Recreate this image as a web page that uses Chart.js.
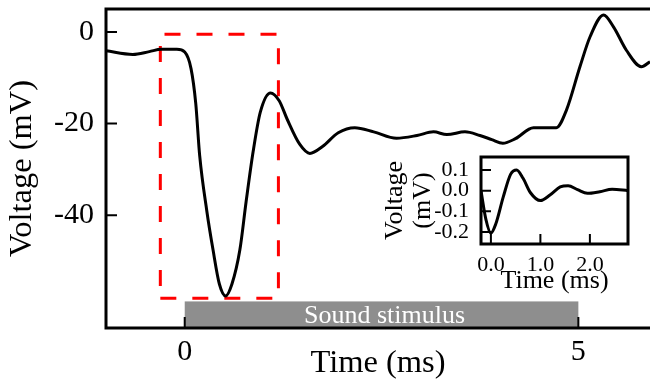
<!DOCTYPE html>
<html>
<head>
<meta charset="utf-8">
<script src="https://cdn.jsdelivr.net/npm/chart.js@4"></script>
<style>
html, body { margin: 0; padding: 0; background: #fff; }
#wrap { position: relative; width: 650px; height: 383px; }
#mainChart { position: absolute; left: 0; top: 0; }
#insetChart { position: absolute; left: 380px; top: 145px; }
</style>
</head>
<body>
<div id="wrap">
  <canvas id="mainChart" width="650" height="383" style="width:650px;height:383px"></canvas>
  <canvas id="insetChart" width="252" height="155" style="width:252px;height:155px"></canvas>
</div>
<script>
// main trace (ms / mV)
const timeMs = [-1.0, -0.66, -0.45, -0.3, -0.1, 0.0, 0.08, 0.14, 0.19, 0.28, 0.36, 0.44, 0.52, 0.6, 0.7, 0.78, 0.87, 0.96, 1.09, 1.2, 1.3, 1.46, 1.59, 1.75, 1.95, 2.16, 2.4, 2.69, 2.95, 3.16, 3.33, 3.56, 3.75, 3.9, 4.04, 4.2, 4.43, 4.72, 4.85, 5.02, 5.15, 5.32, 5.45, 5.61, 5.8, 5.91];
const voltageMv = [-4.1, -4.9, -4.3, -3.8, -3.8, -4.4, -8.0, -15.6, -27, -39, -47.6, -55, -57.6, -55, -47.6, -37, -26, -17.5, -13.3, -15, -19, -24.5, -26.5, -25, -22, -20.9, -21.8, -23.2, -22.6, -21.8, -22.4, -21.8, -22.6, -23.5, -24.3, -23.3, -20.9, -20.9, -17, -7.6, -1, 3.7, 1, -4.0, -7.6, -6.5];
const xTicks = [0, 5];
const yTicks = [0, -20, -40];

// highlighted window and stimulus bar
const boxTime = [-0.31, 1.19];
const boxVolt = [-0.5, -58.1];
const stimTime = [0, 5];
const stimTop = -58.8;
const stimLabel = 'Sound stimulus';

// inset trace (ms / mV)
const insetTime = [-0.2, -0.1, 0.0, 0.1, 0.25, 0.4, 0.52, 0.65, 0.8, 1.0, 1.2, 1.4, 1.56, 1.75, 1.95, 2.2, 2.45, 2.77];
const insetVoltage = [0.0, -0.14, -0.205, -0.16, -0.03, 0.08, 0.1, 0.06, -0.01, -0.048, -0.02, 0.018, 0.024, 0.005, -0.013, -0.005, 0.007, 0.0];
const insetXTicks = [0, 1, 2];
const insetYTicks = [0.1, 0, -0.1, -0.2];

const serif = '"Liberation Serif", "Times New Roman", serif';

// frame, inward ticks and stimulus bar
const framePlugin = {
    id: 'frame',
    afterDatasetsDraw(chart, args, opts) {
        const { ctx, chartArea: a, scales: { x, y } } = chart;
        ctx.save();
        if (opts.bar) {
            const x0 = x.getPixelForValue(opts.bar.from);
            const x1 = x.getPixelForValue(opts.bar.to);
            const yt = y.getPixelForValue(opts.bar.top);
            ctx.fillStyle = '#8e8e8e';
            ctx.fillRect(x0, yt, x1 - x0, a.bottom - yt);
            ctx.fillStyle = '#fff';
            ctx.font = '26px ' + serif;
            ctx.textAlign = 'center';
            ctx.textBaseline = 'middle';
            ctx.fillText(opts.bar.label, (x0 + x1) / 2 + 3, (yt + a.bottom) / 2 + 1);
        }
        ctx.strokeStyle = '#000';
        ctx.lineWidth = 2;
        ctx.beginPath();
        x.ticks.forEach(t => {
            const px = x.getPixelForValue(t.value);
            ctx.moveTo(px, a.bottom);
            ctx.lineTo(px, a.bottom - opts.tickLen);
        });
        y.ticks.forEach(t => {
            const py = y.getPixelForValue(t.value);
            ctx.moveTo(a.left, py);
            ctx.lineTo(a.left + opts.tickLen, py);
        });
        ctx.stroke();
        ctx.lineWidth = 3;
        ctx.beginPath();
        if (opts.box) {
            ctx.rect(a.left, a.top, a.right - a.left, a.bottom - a.top);
        } else {
            ctx.moveTo(a.right, a.top);
            ctx.lineTo(a.left, a.top);
            ctx.lineTo(a.left, a.bottom);
            ctx.lineTo(a.right, a.bottom);
        }
        ctx.stroke();
        ctx.restore();
    }
};

function axisText(size) {
    return { family: serif, size: size, lineHeight: 1.2 };
}

// fixed axis sizes, no extra label padding
function fixHeight(h) {
    return s => { s.height = h; s.paddingLeft = 0; s.paddingRight = 0; s.paddingTop = 0; s.paddingBottom = 0; };
}
function fixWidth(w) {
    return s => { s.width = w; s.paddingLeft = 0; s.paddingRight = 0; s.paddingTop = 0; s.paddingBottom = 0; };
}

new Chart(document.getElementById('mainChart'), {
    type: 'line',
    data: {
        datasets: [{
            data: timeMs.map((t, i) => ({ x: t, y: voltageMv[i] })),
            borderColor: '#000',
            borderWidth: 3,
            pointRadius: 0,
            cubicInterpolationMode: 'monotone'
        }, {
            data: [
                { x: boxTime[0], y: boxVolt[1] },
                { x: boxTime[1], y: boxVolt[1] },
                { x: boxTime[1], y: boxVolt[0] },
                { x: boxTime[0], y: boxVolt[0] },
                { x: boxTime[0], y: boxVolt[1] }
            ],
            borderColor: '#ff0000',
            borderWidth: 3,
            borderDash: [16, 16],
            pointRadius: 0,
            tension: 0
        }]
    },
    options: {
        responsive: false,
        animation: false,
        events: [],
        layout: { padding: { top: 9, left: 0, right: 0, bottom: 0 } },
        plugins: {
            legend: { display: false },
            tooltip: { enabled: false },
            frame: {
                tickLen: 11,
                box: false,
                bar: { from: stimTime[0], to: stimTime[1], top: stimTop, label: stimLabel }
            }
        },
        scales: {
            x: {
                type: 'linear',
                min: -1.0,
                max: 5.91,
                afterFit: fixHeight(55),
                afterBuildTicks(s) { s.ticks = xTicks.map(v => ({ value: v })); },
                grid: { display: false, drawTicks: false },
                border: { display: false },
                ticks: { font: axisText(30), color: '#000', padding: 6, autoSkip: false, maxRotation: 0 },
                title: { display: true, text: 'Time (ms)', font: axisText(32.5), color: '#000', padding: { top: 0, bottom: 0 } }
            },
            y: {
                type: 'linear',
                min: -64.6,
                max: 5,
                afterFit: fixWidth(106),
                afterBuildTicks(s) { s.ticks = yTicks.map(v => ({ value: v })); },
                grid: { display: false, drawTicks: false },
                border: { display: false },
                ticks: { font: axisText(30), color: '#000', padding: 12, autoSkip: false },
                title: { display: true, text: 'Voltage (mV)', font: axisText(32.5), color: '#000', padding: { top: 3, bottom: 0 } }
            }
        }
    },
    plugins: [framePlugin]
});

new Chart(document.getElementById('insetChart'), {
    type: 'line',
    data: {
        datasets: [{
            data: insetTime.map((t, i) => ({ x: t, y: insetVoltage[i] })),
            borderColor: '#000',
            borderWidth: 3,
            pointRadius: 0,
            cubicInterpolationMode: 'monotone'
        }]
    },
    options: {
        responsive: false,
        animation: false,
        events: [],
        layout: { padding: { top: 12, left: 0, right: 4, bottom: 0 } },
        plugins: {
            legend: { display: false },
            tooltip: { enabled: false },
            frame: { tickLen: 10, box: true }
        },
        scales: {
            x: {
                type: 'linear',
                min: -0.2,
                max: 2.77,
                afterFit: fixHeight(56),
                afterBuildTicks(s) { s.ticks = insetXTicks.map(v => ({ value: v })); },
                grid: { display: false, drawTicks: false },
                border: { display: false },
                ticks: { font: axisText(22), color: '#000', padding: 8, autoSkip: false, maxRotation: 0, callback: v => v.toFixed(1) },
                title: { display: true, text: 'Time (ms)', font: axisText(26), color: '#000', padding: { top: 0, bottom: 3 } }
            },
            y: {
                type: 'linear',
                min: -0.258,
                max: 0.163,
                afterFit: fixWidth(101),
                afterBuildTicks(s) { s.ticks = insetYTicks.map(v => ({ value: v })); },
                grid: { display: false, drawTicks: false },
                border: { display: false },
                ticks: { font: axisText(22), color: '#000', padding: 12, autoSkip: false, callback: v => v.toFixed(1) },
                title: {
                    display: true,
                    text: ['Voltage', '(mV)'],
                    font: { family: serif, size: 26, lineHeight: 1.08 },
                    color: '#000',
                    padding: { top: 1, bottom: 0 }
                }
            }
        }
    },
    plugins: [framePlugin]
});
</script>
</body>
</html>
